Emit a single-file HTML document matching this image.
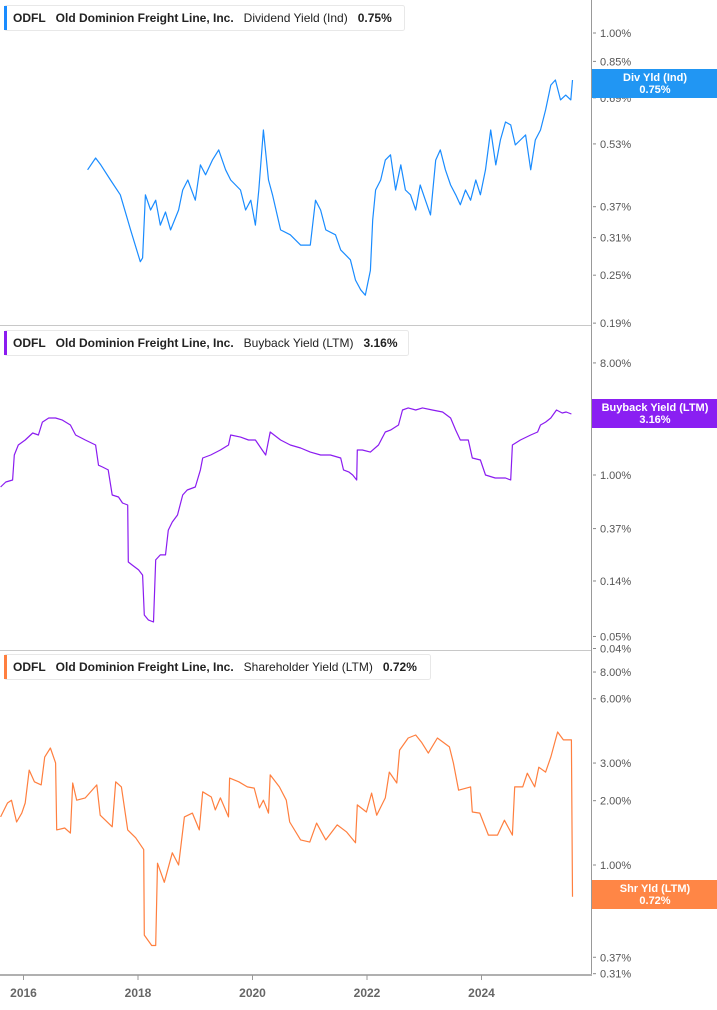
<!DOCTYPE html>
<html><head><meta charset="utf-8"><style>
html,body{margin:0;padding:0;background:#fff;}
body{width:717px;height:1005px;overflow:hidden;font-family:"Liberation Sans",sans-serif;}
svg text{font-family:"Liberation Sans",sans-serif;}
</style></head><body>
<svg id="chart" width="717" height="1005" xmlns="http://www.w3.org/2000/svg"></svg>
<script>
// ---- data ----
const yearTicks = [2016, 2018, 2020, 2022, 2024];

const divDates = [2017.12,2017.26,2017.35,2017.52,2017.69,2017.87,2018.04,2018.08,2018.13,2018.22,2018.31,2018.39,2018.48,2018.57,2018.71,2018.78,2018.87,2019.00,2019.09,2019.18,2019.30,2019.41,2019.53,2019.62,2019.79,2019.88,2019.97,2020.05,2020.11,2020.19,2020.28,2020.35,2020.49,2020.66,2020.84,2021.01,2021.10,2021.19,2021.28,2021.45,2021.54,2021.71,2021.80,2021.89,2021.97,2022.06,2022.10,2022.15,2022.24,2022.32,2022.41,2022.50,2022.59,2022.67,2022.76,2022.85,2022.93,2023.02,2023.11,2023.20,2023.28,2023.37,2023.46,2023.55,2023.63,2023.72,2023.81,2023.90,2023.98,2024.07,2024.16,2024.25,2024.33,2024.42,2024.51,2024.59,2024.68,2024.77,2024.86,2024.94,2025.03,2025.12,2025.21,2025.29,2025.38,2025.47,2025.56,2025.59];
const divValues = [0.457,0.489,0.47,0.431,0.396,0.324,0.27,0.276,0.396,0.363,0.384,0.333,0.359,0.324,0.363,0.407,0.431,0.384,0.47,0.444,0.483,0.512,0.457,0.431,0.407,0.363,0.384,0.333,0.407,0.574,0.431,0.396,0.324,0.315,0.297,0.297,0.384,0.363,0.324,0.315,0.289,0.273,0.243,0.23,0.223,0.257,0.343,0.407,0.431,0.483,0.498,0.407,0.47,0.407,0.396,0.363,0.419,0.384,0.353,0.483,0.512,0.457,0.419,0.396,0.374,0.407,0.384,0.431,0.396,0.457,0.574,0.47,0.542,0.601,0.591,0.527,0.542,0.558,0.457,0.542,0.574,0.644,0.742,0.764,0.682,0.701,0.682,0.764];

const bbDates = [2015.60,2015.69,2015.81,2015.84,2015.91,2016.03,2016.16,2016.26,2016.33,2016.44,2016.56,2016.68,2016.82,2016.91,2017.08,2017.26,2017.31,2017.38,2017.48,2017.55,2017.66,2017.73,2017.82,2017.83,2017.90,2018.01,2018.08,2018.11,2018.18,2018.27,2018.31,2018.39,2018.48,2018.53,2018.60,2018.69,2018.78,2018.86,2019.00,2019.09,2019.13,2019.27,2019.44,2019.58,2019.62,2019.79,2019.93,2020.05,2020.17,2020.23,2020.31,2020.49,2020.66,2020.84,2021.01,2021.19,2021.36,2021.54,2021.59,2021.68,2021.75,2021.82,2021.83,2021.92,2022.06,2022.20,2022.32,2022.41,2022.55,2022.62,2022.72,2022.85,2022.97,2023.14,2023.32,2023.46,2023.55,2023.63,2023.77,2023.84,2023.98,2024.07,2024.24,2024.42,2024.51,2024.54,2024.68,2024.86,2024.98,2025.03,2025.12,2025.21,2025.31,2025.41,2025.48,2025.57];
const bbValues = [0.80,0.878,0.911,1.449,1.745,1.914,2.18,2.10,2.67,2.88,2.88,2.77,2.53,2.10,1.914,1.745,1.20,1.16,1.10,0.69,0.665,0.595,0.573,0.199,0.188,0.172,0.156,0.0745,0.068,0.0654,0.207,0.227,0.227,0.36,0.418,0.476,0.69,0.757,0.80,1.10,1.37,1.449,1.59,1.745,2.10,2.02,1.914,1.914,1.59,1.449,2.22,1.914,1.745,1.65,1.53,1.449,1.449,1.37,1.10,1.06,1.00,0.911,1.59,1.59,1.53,1.745,2.22,2.30,2.53,3.34,3.47,3.34,3.47,3.34,3.22,2.88,2.30,1.914,1.914,1.37,1.32,1.00,0.946,0.946,0.911,1.745,1.914,2.10,2.22,2.53,2.67,2.88,3.34,3.16,3.22,3.10];

const shDates = [2015.60,2015.72,2015.79,2015.88,2015.97,2016.03,2016.10,2016.19,2016.31,2016.37,2016.47,2016.56,2016.58,2016.72,2016.82,2016.86,2016.93,2017.08,2017.28,2017.34,2017.55,2017.61,2017.71,2017.82,2017.96,2018.10,2018.11,2018.24,2018.31,2018.34,2018.46,2018.60,2018.71,2018.81,2018.95,2019.07,2019.13,2019.28,2019.35,2019.44,2019.58,2019.60,2019.76,2019.91,2020.03,2020.12,2020.19,2020.28,2020.31,2020.47,2020.59,2020.65,2020.84,2021.00,2021.12,2021.28,2021.48,2021.64,2021.80,2021.83,2021.99,2022.08,2022.17,2022.32,2022.39,2022.52,2022.57,2022.72,2022.85,2022.95,2023.07,2023.23,2023.44,2023.51,2023.60,2023.81,2023.84,2023.97,2024.12,2024.28,2024.40,2024.54,2024.58,2024.72,2024.80,2024.93,2025.00,2025.12,2025.21,2025.33,2025.43,2025.57,2025.59];
const shValues = [1.68,1.95,2.01,1.59,1.75,1.95,2.78,2.45,2.37,3.20,3.53,3.00,1.46,1.49,1.41,2.42,2.01,2.06,2.37,1.71,1.51,2.45,2.32,1.46,1.34,1.18,0.47,0.42,0.42,1.02,0.83,1.14,1.00,1.68,1.75,1.46,2.20,2.08,1.81,2.06,1.68,2.55,2.45,2.32,2.29,1.85,2.01,1.75,2.64,2.32,2.01,1.59,1.31,1.28,1.57,1.31,1.54,1.43,1.27,1.91,1.77,2.17,1.71,2.06,2.72,2.42,3.45,3.93,4.06,3.76,3.34,3.93,3.57,3.00,2.24,2.32,1.77,1.75,1.38,1.38,1.62,1.38,2.32,2.32,2.69,2.32,2.87,2.72,3.20,4.19,3.85,3.85,0.71];

const divTicks = [1.00,0.85,0.69,0.53,0.37,0.31,0.25,0.19];
const bbTicks = [8.00,3.00,1.00,0.37,0.14,0.05,0.04];
const shTicks = [8.00,6.00,3.00,2.00,1.00,0.69,0.37,0.31];

// ---- scales ----
const NS = 'http://www.w3.org/2000/svg';
const svg = document.getElementById('chart');
const PLOT_R = 591;
function xScale(t){ return 23.5 + (t - 2016) * 57.25; }
function logScale(refV, refY, pxPerLn){ return v => refY - Math.log(v / refV) * pxPerLn; }
const yDiv = logScale(1.0, 33, 174.7);
const yBb = logScale(1.0, 475, 53.9);
const ySh = logScale(1.0, 865, 92.8);

function mk(tag, attrs, parent){
  const e = document.createElementNS(NS, tag);
  for (const k in attrs) e.setAttribute(k, attrs[k]);
  (parent || svg).appendChild(e);
  return e;
}

// separators & axes
let g = mk('g', {});


mk('line', {x1:0, y1:325.5, x2:PLOT_R, y2:325.5, stroke:'#c8c8c8', 'stroke-width':1}, g);
mk('line', {x1:0, y1:650.5, x2:PLOT_R, y2:650.5, stroke:'#c8c8c8', 'stroke-width':1}, g);
mk('line', {x1:PLOT_R+0.5, y1:0, x2:PLOT_R+0.5, y2:975, stroke:'#999', 'stroke-width':1}, g);
mk('line', {x1:0, y1:975, x2:PLOT_R+1, y2:975, stroke:'#b0b0b0', 'stroke-width':2}, g);

// x ticks
const xg = mk('g', {});


yearTicks.forEach(yr => {
  const x = xScale(yr);
  mk('line', {x1:x, y1:975, x2:x, y2:980, stroke:'#999', 'stroke-width':1}, xg);
  const t = mk('text', {x:x, y:997, 'text-anchor':'middle', 'font-size':12, 'font-weight':'bold', fill:'#666'}, xg);
  
  
  t.textContent = yr;
});

function yAxis(ticks, ys, name){
  const ag = mk('g', {});
  
  
  ticks.forEach(v => {
    const y = ys(v);
    mk('line', {x1:PLOT_R+2, y1:y, x2:PLOT_R+5, y2:y, stroke:'#888', 'stroke-width':1}, ag);
    const t = mk('text', {x:600, y:y+4, 'font-size':11, fill:'#555'}, ag);
    
    
    t.textContent = v.toFixed(2) + '%';
  });
}
yAxis(divTicks, yDiv, 'div-yield-axis');
yAxis(bbTicks, yBb, 'buyback-yield-axis');
yAxis(shTicks, ySh, 'shareholder-yield-axis');

function series(dates, vals, ys, color, name){
  let d = '';
  dates.forEach((t, i) => { d += (i ? 'L' : 'M') + xScale(t).toFixed(1) + ' ' + ys(vals[i]).toFixed(1); });
  const p = mk('path', {d:d, fill:'none', stroke:color, 'stroke-width':1.2, 'stroke-linejoin':'round'});
  
  
}
series(divDates, divValues, yDiv, '#1a8cff', 'div-yield-line');
series(bbDates, bbValues, yBb, '#8b1cf0', 'buyback-yield-line');
series(shDates, shValues, ySh, '#ff7f3f', 'shareholder-yield-line');

function badge(y, h, color, l1, l2, name){
  const bg = mk('g', {});
  
  
  mk('rect', {x:PLOT_R+1, y:y, width:717-PLOT_R, height:h, fill:color}, bg);
  const cx = PLOT_R + 1 + (717-PLOT_R)/2;
  const a = mk('text', {x:cx, y:y+12, 'text-anchor':'middle', 'font-size':11, 'font-weight':'bold', fill:'#fff'}, bg);
  a.textContent = l1;
  const b = mk('text', {x:cx, y:y+24, 'text-anchor':'middle', 'font-size':11, 'font-weight':'bold', fill:'#fff'}, bg);
  b.textContent = l2;
}
badge(69, 29, '#2196f3', 'Div Yld (Ind)', '0.75%', 'div-yield-badge');
badge(399, 29, '#8a1ff2', 'Buyback Yield (LTM)', '3.16%', 'buyback-yield-badge');
badge(880, 29, '#ff8646', 'Shr Yld (LTM)', '0.72%', 'shareholder-yield-badge');

function legend(y, w, color, metric, val, name){
  const lg = mk('g', {});
  
  
  mk('rect', {x:4.5, y:y+0.5, width:w, height:25, rx:2, fill:'#fff', stroke:'#e8e8e8'}, lg);
  mk('rect', {x:4, y:y+1, width:3, height:24, fill:color}, lg);
  const t = mk('text', {x:13, y:y+17, 'font-size':12, fill:'#222'}, lg);
  t.innerHTML = '<tspan font-weight="bold">ODFL</tspan><tspan dx="10" font-weight="bold">Old Dominion Freight Line, Inc.</tspan><tspan dx="10">' + metric + '</tspan><tspan dx="10" font-weight="bold">' + val + '</tspan>';
}
legend(5, 400, '#1a8cff', 'Dividend Yield (Ind)', '0.75%', 'div-yield-legend');
legend(330, 404, '#8b1cf0', 'Buyback Yield (LTM)', '3.16%', 'buyback-yield-legend');
legend(654, 426, '#ff7f3f', 'Shareholder Yield (LTM)', '0.72%', 'shareholder-yield-legend');
</script>
</body></html>
